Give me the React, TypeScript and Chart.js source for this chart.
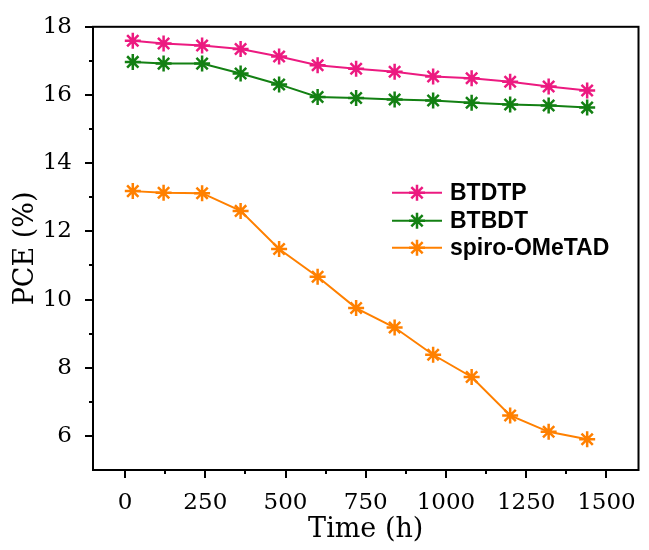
import React, { useEffect, useRef } from 'react';
import { Chart, registerables } from 'chart.js';

Chart.register(...registerables);

const TIME = [24, 120, 240, 360, 480, 600, 720, 840, 960, 1080, 1200, 1320, 1440];
const BTDTP = [17.59, 17.51, 17.45, 17.35, 17.13, 16.87, 16.77, 16.68, 16.54, 16.49, 16.39, 16.25, 16.13];
const BTBDT = [16.97, 16.92, 16.92, 16.63, 16.31, 15.94, 15.91, 15.87, 15.84, 15.77, 15.72, 15.69, 15.63];
const SPIRO = [13.18, 13.13, 13.12, 12.6, 11.48, 10.67, 9.75, 9.18, 8.38, 7.73, 6.6, 6.12, 5.9];

const SERIES_NAMES = ['BTDTP', 'BTBDT', 'spiro-OMeTAD'];
const SERIES_VALUES = [BTDTP, BTBDT, SPIRO];
const COLORS = ['#EC1A80', '#138013', '#FF8000'];

const X_MAJOR = [0, 250, 500, 750, 1000, 1250, 1500];
const X_MINOR = [125, 375, 625, 875, 1125, 1375];
const Y_MAJOR = [6, 8, 10, 12, 14, 16, 18];
const Y_MINOR = [7, 9, 11, 13, 15, 17];

const SERIF = "'DejaVu Serif', serif";

function drawStar(ctx: CanvasRenderingContext2D, x: number, y: number, r: number) {
  ctx.beginPath();
  for (let i = 0; i < 4; i++) {
    const a = (i * Math.PI) / 4;
    ctx.moveTo(x + Math.cos(a) * r, y + Math.sin(a) * r);
    ctx.lineTo(x - Math.cos(a) * r, y - Math.sin(a) * r);
  }
  ctx.stroke();
}

const framePlugin = {
  id: 'frameAndTicks',
  afterDraw(chart: any) {
    const { ctx, chartArea: a, scales } = chart;
    const xs = scales.x;
    const ys = scales.y;
    ctx.save();
    ctx.strokeStyle = '#000';
    ctx.lineWidth = 2;
    ctx.strokeRect(a.left, a.top, a.right - a.left, a.bottom - a.top);
    ctx.beginPath();
    X_MAJOR.forEach((v) => {
      const p = Math.round(xs.getPixelForValue(v));
      ctx.moveTo(p, a.bottom);
      ctx.lineTo(p, a.bottom + 8);
    });
    X_MINOR.forEach((v) => {
      const p = Math.round(xs.getPixelForValue(v));
      ctx.moveTo(p, a.bottom);
      ctx.lineTo(p, a.bottom + 4);
    });
    Y_MAJOR.forEach((v) => {
      const p = Math.round(ys.getPixelForValue(v));
      ctx.moveTo(a.left, p);
      ctx.lineTo(a.left - 8, p);
    });
    Y_MINOR.forEach((v) => {
      const p = Math.round(ys.getPixelForValue(v));
      ctx.moveTo(a.left, p);
      ctx.lineTo(a.left - 4, p);
    });
    ctx.stroke();

    // legend
    const lx = a.left + 299;
    const rows = [166, 194, 221];
    ctx.font = "bold 23px 'Liberation Sans', Arial, sans-serif";
    ctx.textBaseline = 'middle';
    ctx.textAlign = 'left';
    SERIES_NAMES.forEach((name, i) => {
      const yy = a.top + rows[i];
      ctx.strokeStyle = COLORS[i];
      ctx.lineWidth = 2;
      ctx.beginPath();
      ctx.moveTo(lx, yy);
      ctx.lineTo(lx + 50, yy);
      ctx.stroke();
      ctx.lineWidth = 2.5;
      drawStar(ctx, lx + 25, yy, 8);
      ctx.fillStyle = '#000';
      ctx.fillText(name, lx + 58, yy + 1);
    });
    ctx.restore();
  },
};

export default function App() {
  const ref = useRef<HTMLCanvasElement | null>(null);

  useEffect(() => {
    if (!ref.current) return;
    const datasets = SERIES_NAMES.map((name, i) => ({
      label: name,
      data: TIME.map((t, j) => ({ x: t, y: SERIES_VALUES[i][j] })),
      borderColor: COLORS[i],
      backgroundColor: COLORS[i],
      borderWidth: 2,
      pointStyle: 'star' as const,
      pointRadius: 8,
      pointBorderWidth: 2.5,
      pointBorderColor: COLORS[i],
      tension: 0,
    }));
    const chart = new Chart(ref.current, {
      type: 'line',
      data: { datasets },
      options: {
        animation: false,
        responsive: false,
        devicePixelRatio: 1,
        layout: { padding: { top: 19, right: 2, left: 0, bottom: 0 } },
        plugins: { legend: { display: false }, tooltip: { enabled: false } },
        scales: {
          x: {
            type: 'linear',
            min: -100,
            max: 1600,
            afterBuildTicks: (s: any) => {
              s.ticks = X_MAJOR.map((v) => ({ value: v }));
            },
            afterFit: (s: any) => {
              s.height = 80;
            },
            grid: { display: false },
            border: { display: false },
            ticks: {
              color: '#000',
              font: { family: SERIF, size: 23 },
              padding: 11,
              maxRotation: 0,
              autoSkip: false,
              callback: (v: any) => String(v),
            },
            title: {
              display: true,
              text: 'Time (h)',
              color: '#000',
              font: { family: SERIF, size: 27 },
              padding: { top: 0, bottom: 4 },
            },
          },
          y: {
            type: 'linear',
            min: 5,
            max: 18,
            afterBuildTicks: (s: any) => {
              s.ticks = Y_MAJOR.map((v) => ({ value: v }));
            },
            afterFit: (s: any) => {
              s.width = 93;
            },
            grid: { display: false },
            border: { display: false },
            ticks: {
              color: '#000',
              font: { family: SERIF, size: 23 },
              padding: 13,
              autoSkip: false,
              callback: (v: any) => String(v),
            },
            title: {
              display: true,
              text: 'PCE (%)',
              color: '#000',
              font: { family: SERIF, size: 27 },
              padding: { top: 10, bottom: 0 },
            },
          },
        },
      },
      plugins: [framePlugin],
    });
    return () => chart.destroy();
  }, []);

  return (
    <div style={{ position: 'fixed', left: 0, top: 0, width: 649, height: 550, background: '#fff' }}>
      <canvas ref={ref} width={649} height={550} style={{ width: 649, height: 550, display: 'block' }} />
    </div>
  );
}
